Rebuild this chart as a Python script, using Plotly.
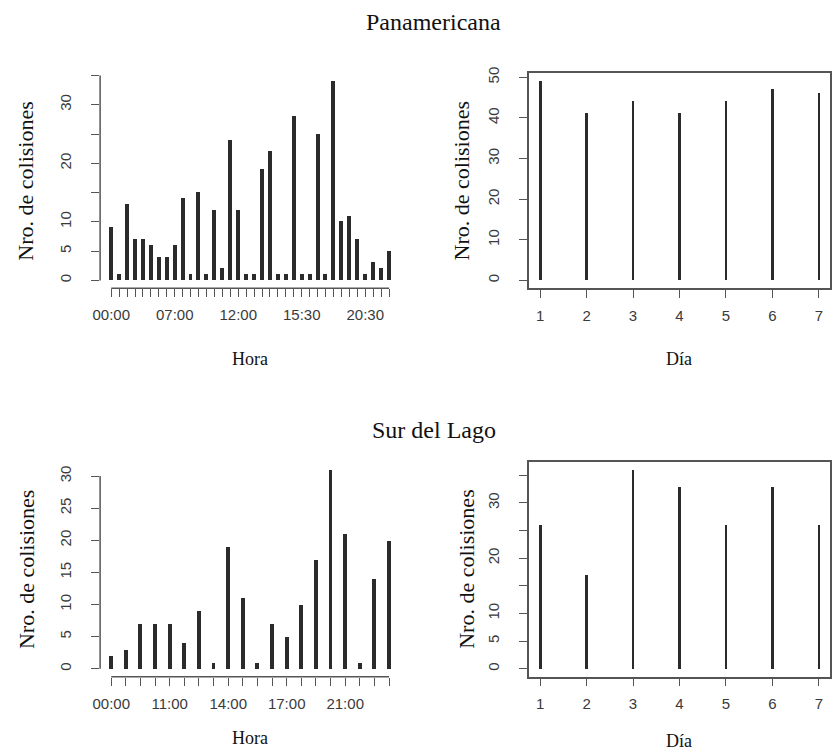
import plotly.graph_objects as go

# ---------------- data ----------------
pan_hora_labels = ["00:00", "01:00", "02:00", "03:00", "04:00", "05:00", "06:00", "06:30",
                   "07:00", "07:30", "08:00", "09:00", "10:00", "10:30", "11:00", "11:30",
                   "12:00", "12:30", "13:00", "13:30", "14:00", "14:30", "15:00", "15:15",
                   "15:30", "16:00", "17:00", "17:30", "18:00", "18:30", "19:00", "20:00",
                   "20:30", "21:00", "22:00", "23:00"]
pan_hora_values = [9, 1, 13, 7, 7, 6, 4, 4, 6, 14, 1, 15, 1, 12, 2, 24, 12, 1, 1, 19, 22, 1,
                   1, 28, 1, 1, 25, 1, 34, 10, 11, 7, 1, 3, 2, 5]
pan_hora_shown = ["00:00", "07:00", "12:00", "15:30", "20:30"]

pan_dia = [1, 2, 3, 4, 5, 6, 7]
pan_dia_values = [49, 41, 44, 41, 44, 47, 46]

sur_hora_labels = ["00:00", "06:00", "08:00", "10:00", "11:00", "12:00", "13:00", "13:30",
                   "14:00", "15:00", "15:30", "16:00", "17:00", "18:00", "19:00", "20:00",
                   "21:00", "22:00", "23:00", "23:30"]
sur_hora_values = [2, 3, 7, 7, 7, 4, 9, 1, 19, 11, 1, 7, 5, 10, 17, 31, 21, 1, 14, 20]
sur_hora_shown = ["00:00", "11:00", "14:00", "17:00", "21:00"]

sur_dia = [1, 2, 3, 4, 5, 6, 7]
sur_dia_values = [26, 17, 36, 33, 26, 33, 26]

pan_hora_yticks = [0, 5, 10, 15, 20, 25, 30, 35]
pan_hora_ylabels = ["0", "5", "10", "", "20", "", "30", ""]
pan_dia_yticks = [0, 10, 20, 30, 40, 50]
sur_hora_yticks = [0, 5, 10, 15, 20, 25, 30]
sur_dia_yticks = [0, 5, 10, 15, 20, 25, 30, 35]
sur_dia_ylabels = ["0", "5", "10", "", "20", "", "30", ""]

titles = ["Panamericana", "Sur del Lago"]
ytitle = "Nro. de colisiones"

# ---------------- layout constants ----------------
W, H = 832, 753
BAR = "#2b2b2b"
AX = "#555555"
SERIF = "Liberation Serif, Times New Roman, serif"
SANS = "Liberation Sans, Arial, sans-serif"

xdom_l = [93 / W, 396 / W]
xdom_r = [526 / W, 830 / W]
ydom_t = [1 - 284 / H, 1 - 67 / H]
ydom_b = [1 - 676 / H, 1 - 459 / H]


def rng(lo, hi):
    d = (hi - lo) * 0.04
    return [lo - d, hi + d]


fig = go.Figure()

tickfont = dict(family=SANS, size=15, color="#3a3a3a")

# panel 1: Panamericana, hora
x1 = list(range(len(pan_hora_values)))
fig.add_trace(go.Bar(x=x1, y=pan_hora_values, width=0.5, marker=dict(color=BAR, line_width=0),
                     xaxis="x", yaxis="y", showlegend=False))
# panel 2: Panamericana, dia
fig.add_trace(go.Bar(x=pan_dia, y=pan_dia_values, width=0.06, marker=dict(color=BAR, line_width=0),
                     xaxis="x2", yaxis="y2", showlegend=False))
# panel 3: Sur del Lago, hora
x3 = list(range(len(sur_hora_values)))
fig.add_trace(go.Bar(x=x3, y=sur_hora_values, width=0.26, marker=dict(color=BAR, line_width=0),
                     xaxis="x3", yaxis="y3", showlegend=False))
# panel 4: Sur del Lago, dia
fig.add_trace(go.Bar(x=sur_dia, y=sur_dia_values, width=0.06, marker=dict(color=BAR, line_width=0),
                     xaxis="x4", yaxis="y4", showlegend=False))


def hora_xaxis(labels, shown, dom, anchor):
    n = len(labels)
    return dict(domain=dom, anchor=anchor, range=rng(0, n - 1), tickmode="array",
                tickvals=list(range(n)),
                ticktext=[l if l in shown else "" for l in labels],
                ticks="outside", ticklen=8, tickcolor=AX, tickwidth=1,
                showline=False, showgrid=False, zeroline=False,
                tickfont=tickfont, ticklabelstandoff=5)


def free_yaxis(vals, tvals, ttext, dom, anchor, box):
    return dict(domain=dom, anchor=anchor, range=rng(0, max(vals)), tickmode="array",
                tickvals=tvals, ticktext=ttext, tickangle=-90,
                ticks="outside", ticklen=8, tickcolor=AX, tickwidth=1,
                showline=box, mirror=box, linecolor=AX, linewidth=1.5,
                showgrid=False, zeroline=False, tickfont=tickfont, ticklabelstandoff=14)


def dia_xaxis(days, dom, anchor):
    return dict(domain=dom, anchor=anchor, range=rng(min(days), max(days)), tickmode="array",
                tickvals=days, ticktext=[str(d) for d in days],
                ticks="outside", ticklen=8, tickcolor=AX, tickwidth=1,
                showline=True, mirror=True, linecolor=AX, linewidth=1.5,
                showgrid=False, zeroline=False, tickfont=tickfont, ticklabelstandoff=5)


fig.update_layout(
    width=W, height=H, margin=dict(l=0, r=0, t=0, b=0),
    paper_bgcolor="white", plot_bgcolor="white", bargap=0,
    xaxis=hora_xaxis(pan_hora_labels, pan_hora_shown, xdom_l, "y"),
    yaxis=free_yaxis(pan_hora_values, pan_hora_yticks, pan_hora_ylabels, ydom_t, "x", False),
    xaxis2=dia_xaxis(pan_dia, xdom_r, "y2"),
    yaxis2=free_yaxis(pan_dia_values, pan_dia_yticks, [str(v) for v in pan_dia_yticks], ydom_t, "x2", True),
    xaxis3=hora_xaxis(sur_hora_labels, sur_hora_shown, xdom_l, "y3"),
    yaxis3=free_yaxis(sur_hora_values, sur_hora_yticks, [str(v) for v in sur_hora_yticks], ydom_b, "x3", False),
    xaxis4=dia_xaxis(sur_dia, xdom_r, "y4"),
    yaxis4=free_yaxis(sur_dia_values, sur_dia_yticks, sur_dia_ylabels, ydom_b, "x4", True),
)

# R-style detached axis lines for the left (box-less) panels
shapes = []
for xr, yr, n, yt, ydom in [("x", "y", len(pan_hora_values), pan_hora_yticks, ydom_t),
                            ("x3", "y3", len(sur_hora_values), sur_hora_yticks, ydom_b)]:
    shapes.append(dict(type="line", xref=xr, yref="paper", x0=0, x1=n - 1, y0=ydom[0], y1=ydom[0],
                       line=dict(color=AX, width=1.5)))
    shapes.append(dict(type="line", xref="paper", yref=yr, x0=xdom_l[0], x1=xdom_l[0],
                       y0=yt[0], y1=yt[-1], line=dict(color=AX, width=1.5)))
fig.update_layout(shapes=shapes)

ann = []


def add_text(txt, x, y, size, angle=0):
    ann.append(dict(text=txt, x=x, y=y, xref="paper", yref="paper", xanchor="center",
                    yanchor="middle", textangle=angle, showarrow=False,
                    font=dict(family=SERIF, size=size, color="#111")))


# main titles
add_text(titles[0], 430 / W, 1 - 15 / H, 24)
add_text(titles[1], 430 / W, 1 - 427 / H, 24)
# x titles
for txt, xd, yy in [("Hora", xdom_l, 355), ("Día", xdom_r, 355), ("Hora", xdom_l, 738), ("Día", xdom_r, 741)]:
    add_text(txt, (xd[0] + xd[1]) / 2, 1 - yy / H, 18)
# y titles
for xx, yd in [(18, ydom_t), (458, ydom_t), (18, ydom_b), (463, ydom_b)]:
    add_text(ytitle, xx / W, (yd[0] + yd[1]) / 2, 22, -90)
fig.update_layout(annotations=ann)

fig.write_html("out.html")
